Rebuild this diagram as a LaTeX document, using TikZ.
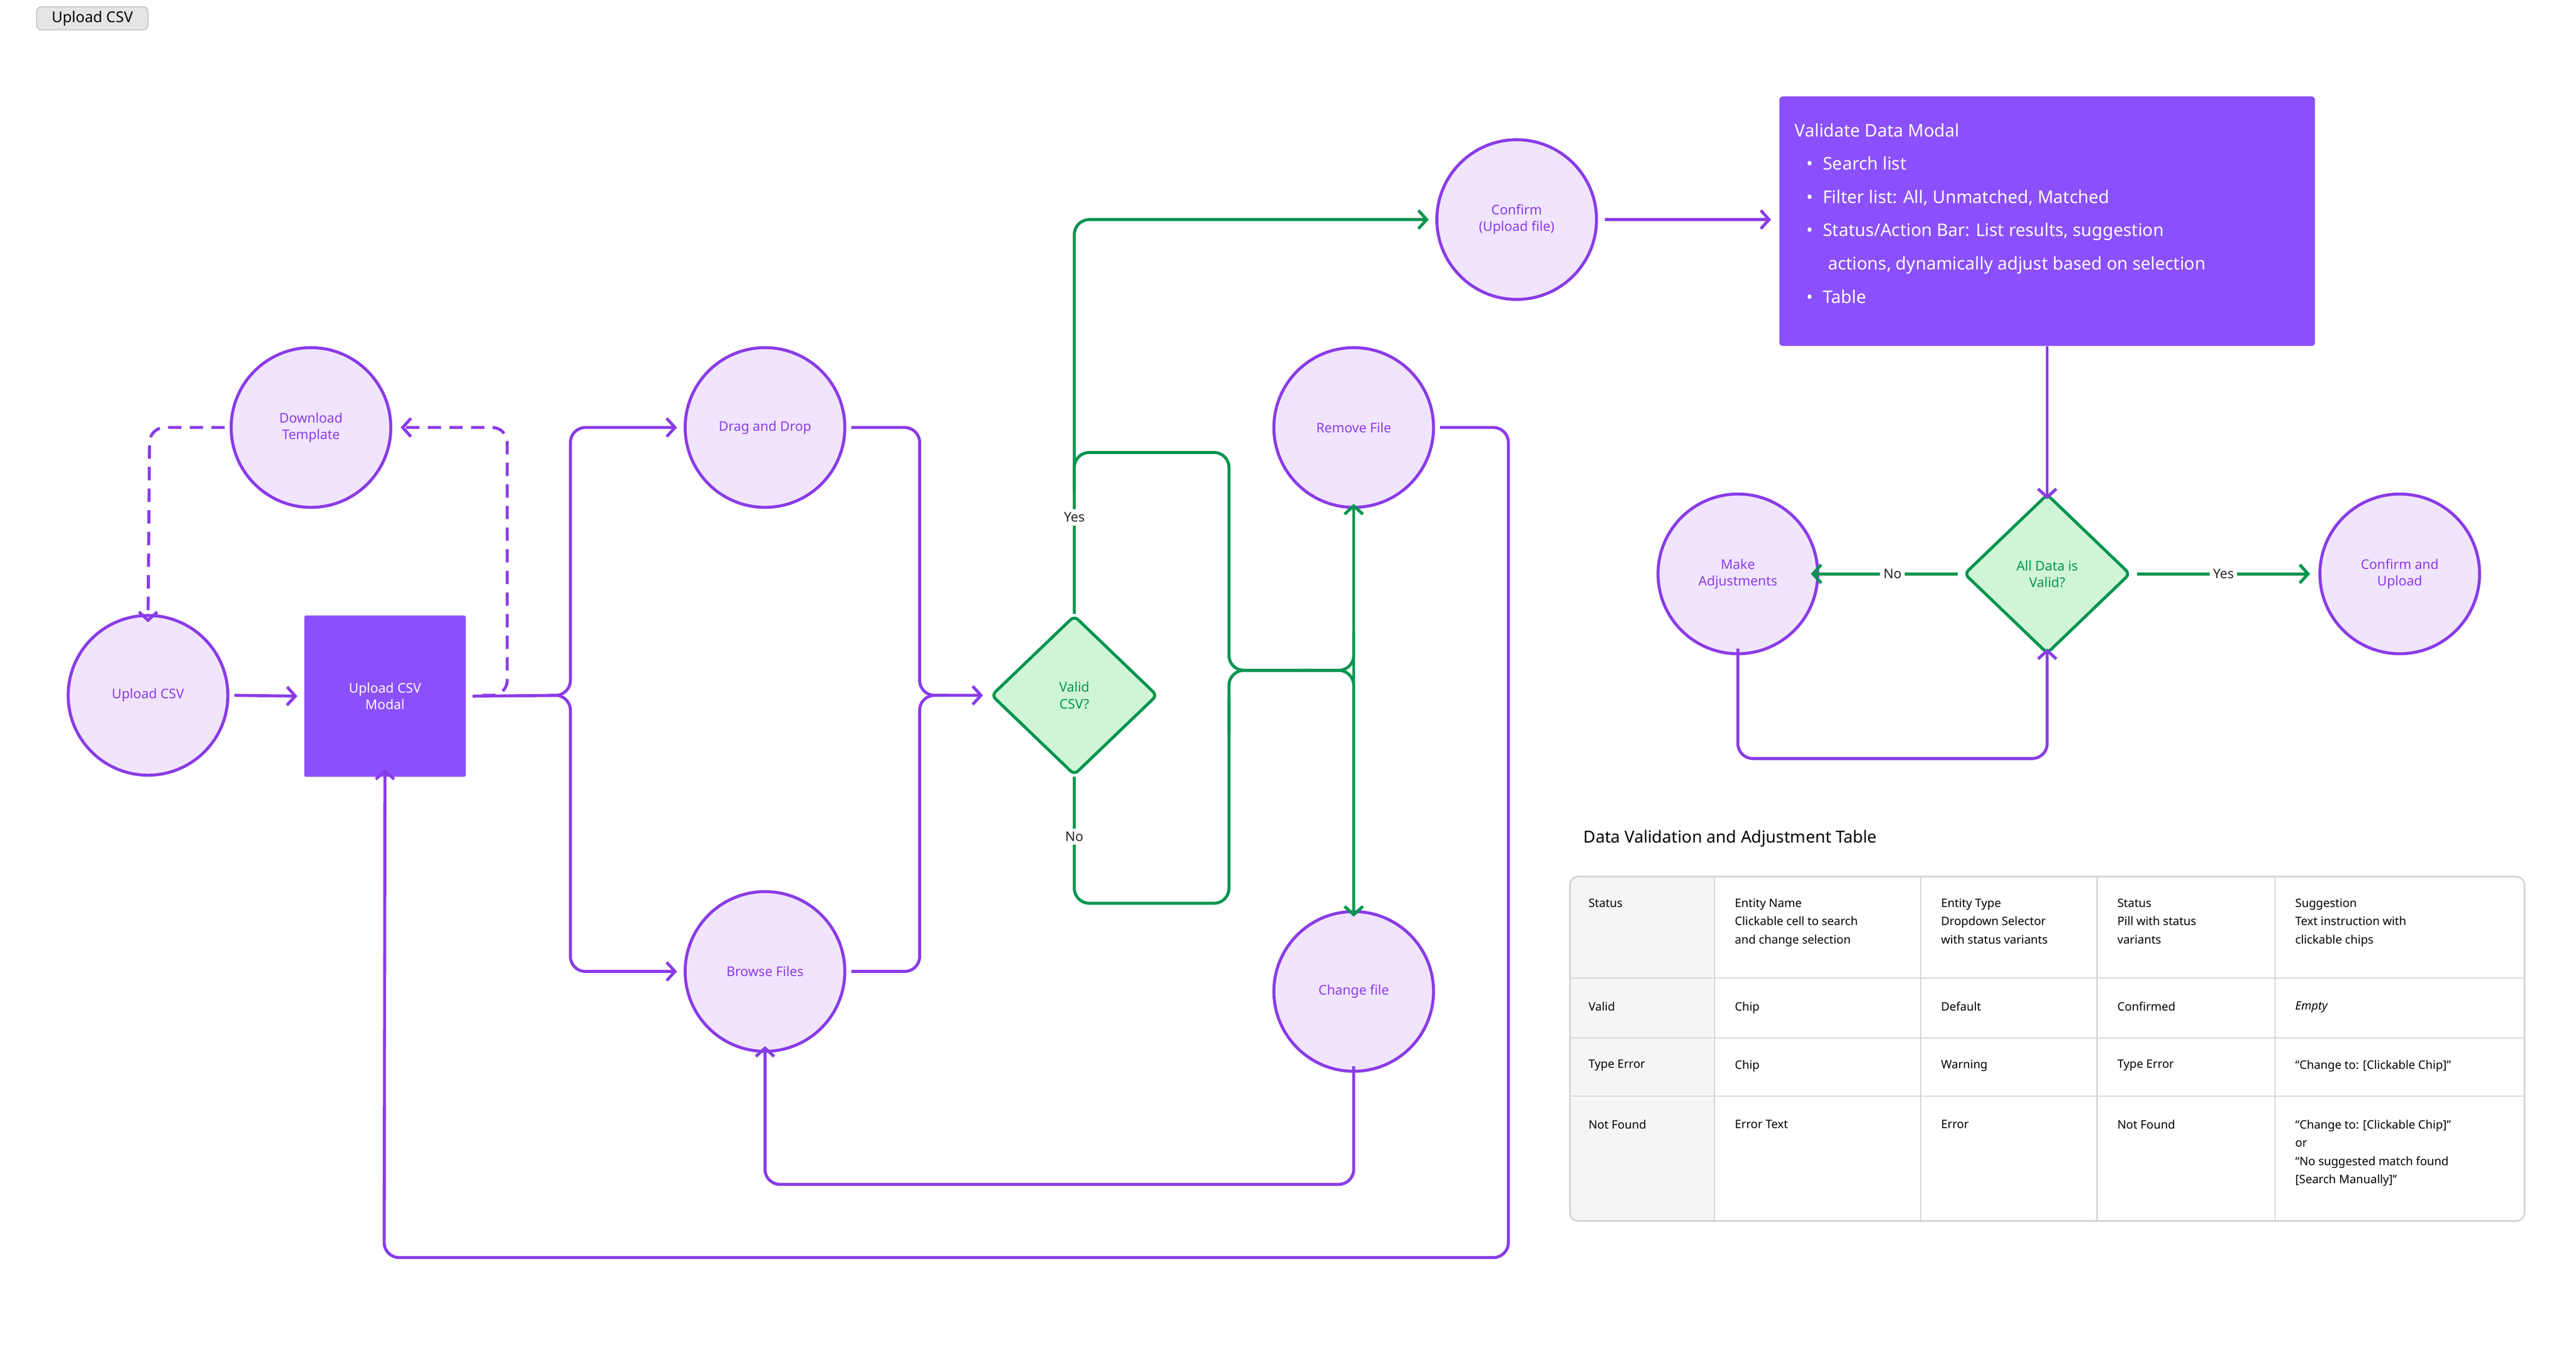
\documentclass[tikz,border=0pt]{standalone}
\usepackage{fontspec}
\setmainfont{Noto Sans}
\usetikzlibrary{arrows.meta,shapes.geometric}
\definecolor{pur}{HTML}{8A3BE8}
\definecolor{purfill}{HTML}{F1E4FD}
\definecolor{modal}{HTML}{8B50FC}
\definecolor{grn}{HTML}{00954F}
\definecolor{grnfill}{HTML}{CFF5D5}
\definecolor{tline}{HTML}{D4D4D4}
\begin{document}
\begin{tikzpicture}[x=1pt,y=-1pt,
 circ/.style={circle,draw=pur,fill=purfill,line width=1.8pt,minimum size=96pt,inner sep=0pt,text=pur,font=\fontsize{8}{10}\selectfont,align=center},
 dia/.style={diamond,draw=grn,fill=grnfill,line width=1.8pt,minimum width=100pt,minimum height=96pt,inner sep=0pt,text=grn,font=\fontsize{8}{10}\selectfont,align=center,rounded corners=3pt},
 pl/.style={draw=pur,line width=1.8pt,rounded corners=9pt},
 gl/.style={draw=grn,line width=1.8pt,rounded corners=9pt},
 arr/.style={-{Straight Barb[length=5pt,width=11pt,line width=1.8pt]}},
 lab/.style={fill=white,font=\fontsize{8}{10}\selectfont,text=black!85,inner sep=2pt},
 cell/.style={anchor=north west,font=\fontsize{7}{11}\selectfont,align=left,inner sep=0pt}]
\useasboundingbox (0,0) rectangle (1549,818);
% button
\node[draw=black!30,fill=black!10,rounded corners=3pt,font=\fontsize{9}{11}\selectfont,minimum width=67pt,minimum height=14pt,inner sep=1pt] (btn) at (55.5,11) {Upload CSV};
% nodes
\node[circ] (dt) at (187,257) {Download\\Template};
\node[circ] (uc) at (89,418) {Upload CSV};
\node[fill=modal,minimum width=97pt,minimum height=97pt,text=white,font=\fontsize{8}{10}\selectfont,align=center,rounded corners=1pt] (um) at (231.5,418.5) {Upload CSV\\Modal};
\node[circ] (dd) at (460,257) {Drag and Drop};
\node[circ] (bf) at (460,584) {Browse Files};
\node[dia] (vc) at (646,418) {Valid\\CSV?};
\node[circ] (cf) at (912,132) {Confirm\\(Upload file)};
\node[circ] (rf) at (814,257) {Remove File};
\node[circ] (ch) at (814,596) {Change file};
\node[fill=modal,minimum width=322pt,minimum height=150pt,rounded corners=2pt] (vm) at (1231,133) {};
\node[anchor=north west,text=white,font=\fontsize{10.5}{20}\selectfont,align=left,inner sep=0pt] at (1079,74) {%
\textbf{Validate Data Modal}\\
\hspace*{7pt}\textbullet\hspace{6pt}Search list\\
\hspace*{7pt}\textbullet\hspace{6pt}Filter list: All, Unmatched, Matched\\
\hspace*{7pt}\textbullet\hspace{6pt}Status/Action Bar: List results, suggestion\\
\hspace*{20pt}actions, dynamically adjust based on selection\\
\hspace*{7pt}\textbullet\hspace{6pt}Table};
\node[dia] (av) at (1231,345) {All Data is\\Valid?};
\node[circ] (ma) at (1045,345) {Make\\Adjustments};
\node[circ] (cu) at (1443,345) {Confirm and\\Upload};
% purple connectors
\draw[pl,arr] (uc.east)+(3,0) -- ([xshift=-4pt]um.west);
\draw[pl,arr,dash pattern=on 8pt off 5pt] ([xshift=-3pt]dt.west) -- (90,257) -- ([yshift=-5pt]uc.north);
\draw[pl,arr,dash pattern=on 8pt off 5pt] (290,418) -- (305,418) -- (305,257) -- ([xshift=5pt]dt.east);
\draw[pl,arr] ([xshift=4pt]um.east) -- (343,418) -- (343,257) -- ([xshift=-4pt]dd.west);
\draw[pl,arr] (330,418) -- (343,418) -- (343,584) -- ([xshift=-4pt]bf.west);
\draw[pl,arr] ([xshift=3pt]dd.east) -- (553,257) -- (553,418) -- ([xshift=-4pt]vc.west);
\draw[pl] ([xshift=3pt]bf.east) -- (553,584) -- (553,418) -- (570,418);
\draw[pl,arr] ([xshift=3pt]rf.east) -- (907,257) -- (907,756) -- (231,756) -- ([yshift=5pt]um.south);
\draw[pl,arr] ([yshift=4pt]ch.south) -- (814,712) -- (460,712) -- ([yshift=4pt]bf.south);
\draw[pl,arr] ([xshift=4pt]cf.east) -- (1065,132);
\draw[pl,arr] (vm.south) -- ([yshift=-4pt]av.north);
\draw[pl,arr] ([yshift=4pt]ma.south) -- (1045,456) -- (1231,456) -- ([yshift=4pt]av.south);
% green connectors
\draw[gl,arr] (vc.north) -- (646,132) -- ([xshift=-4pt]cf.west);
\draw[gl] (646,295) -- (646,272) -- (739,272) -- (739,403) -- (814,403) -- (814,380);
\draw[gl,arr] (814,410) -- (814,403) -- ([yshift=3pt]rf.south);
\draw[gl] (739,440) -- (739,403) -- (790,403);
\draw[gl,arr] (780,403) -- (814,403) -- ([yshift=-4pt]ch.north);
\draw[gl] (vc.south) -- (646,543) -- (739,543) -- (739,420);
\node[lab] at (646,311) {Yes};
\node[lab] at (646,503) {No};
\draw[gl,arr] ([xshift=-3pt]av.west) -- ([xshift=-5pt]ma.east);
\draw[gl,arr] ([xshift=3pt]av.east) -- ([xshift=-5pt]cu.west);
\node[lab] at (1138,345) {No};
\node[lab] at (1337,345) {Yes};
% table
\node[anchor=west,font=\fontsize{10}{12}\selectfont\bfseries,inner sep=0pt] (tt) at (952,504) {Data Validation and Adjustment Table};
\fill[black!4,rounded corners=5pt] (944,527) rectangle (1031,734);
\fill[black!4] (1000,527) rectangle (1031,734);
\foreach \yy in {588,624,659} \draw[tline,line width=0.7pt] (944,\yy) -- (1518,\yy);
\foreach \xx in {1031,1155,1261,1368} \draw[tline,line width=0.7pt] (\xx,527) -- (\xx,734);
\draw[tline,line width=1pt,rounded corners=5pt] (944,527) rectangle (1518,734);
\node[cell] at (955,540) {\textbf{Status}};
\node[cell] at (1043,540) {\textbf{Entity Name}\\Clickable cell to search\\and change selection};
\node[cell] at (1167,540) {\textbf{Entity Type}\\Dropdown Selector\\with status variants};
\node[cell] at (1273,540) {\textbf{Status}\\Pill with status\\variants};
\node[cell] at (1380,540) {\textbf{Suggestion}\\Text instruction with\\clickable chips};
\node[cell] at (955,602) {Valid};
\node[cell] at (1043,602) {Chip};
\node[cell] at (1167,602) {Default};
\node[cell] at (1273,602) {Confirmed};
\node[cell] at (1380,602) {\textit{Empty}};
\node[cell] at (955,637) {Type Error};
\node[cell] at (1043,637) {Chip};
\node[cell] at (1167,637) {Warning};
\node[cell] at (1273,637) {Type Error};
\node[cell] at (1380,637) {“Change to: [Clickable Chip]”};
\node[cell] at (955,673) {Not Found};
\node[cell] at (1043,673) {Error Text};
\node[cell] at (1167,673) {Error};
\node[cell] at (1273,673) {Not Found};
\node[cell] at (1380,673) {“Change to: [Clickable Chip]”\\or\\“No suggested match found\\{[Search Manually]}”};
\end{tikzpicture}
\end{document}
